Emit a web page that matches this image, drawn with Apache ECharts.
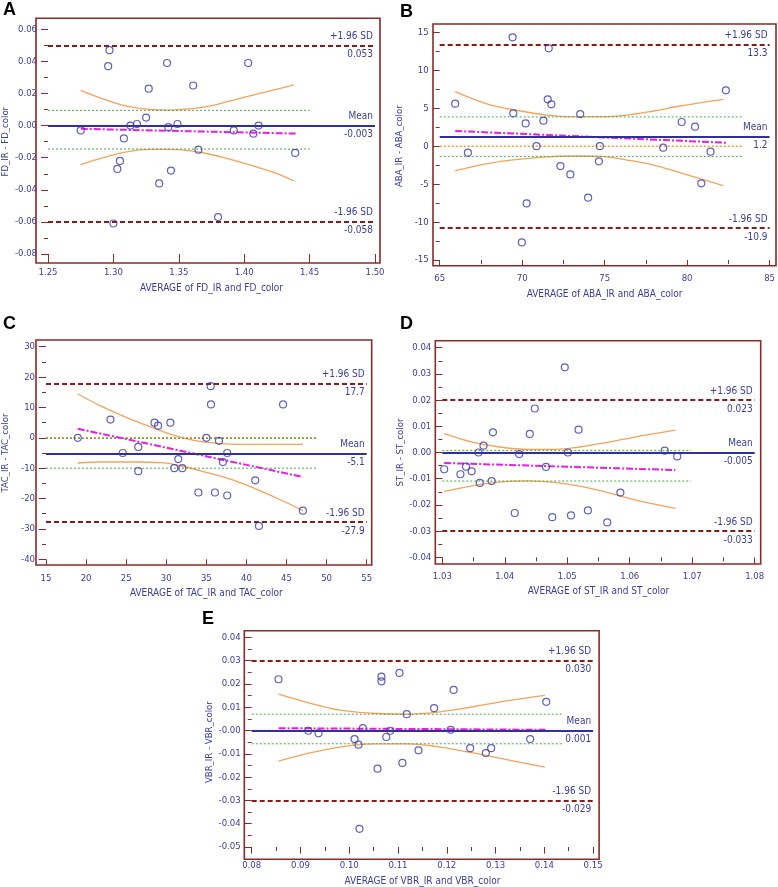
<!DOCTYPE html>
<html>
<head>
<meta charset="utf-8">
<script src="https://cdn.jsdelivr.net/npm/echarts/dist/echarts.min.js"></script>
<style>
  html, body { margin: 0; background: #fff; }
  #main { width: 778px; height: 887px; }
</style>
</head>
<body>
<div id="main"></div>
<script>
// ---- A: FD ----
const fdAvg = [1.275, 1.296, 1.297, 1.300, 1.303, 1.305, 1.308, 1.313, 1.318, 1.325, 1.327, 1.335, 1.341, 1.342, 1.344, 1.349, 1.361, 1.365, 1.380, 1.392, 1.403, 1.407, 1.411, 1.439]
const fdDiff = [-0.003, 0.037, 0.047, -0.061, -0.027, -0.022, -0.008, 0.000, 0.001, 0.005, 0.023, -0.036, 0.039, -0.001, -0.028, 0.001, 0.025, -0.015, -0.057, -0.003, 0.039, -0.005, 0.000, -0.017]
const fdLimits = [0.053, -0.0025, -0.058]
const fdLimitText = ['0.053', '-0.003', '-0.058']
const fdMeanCi = [0.0095, -0.0146]
const fdGuideEnd = 1.45
const fdReg = [[1.275, -0.002], [1.44, -0.005]]
const fdCiUp = [[1.275, 0.022], [1.293, 0.0164], [1.310, 0.0122], [1.328, 0.0101], [1.343, 0.0097], [1.358, 0.0104], [1.373, 0.0122], [1.388, 0.0151], [1.406, 0.0189], [1.423, 0.0222], [1.438, 0.0253]]
const fdCiLo = [[1.275, -0.0243], [1.293, -0.0198], [1.310, -0.0164], [1.328, -0.0148], [1.343, -0.0148], [1.358, -0.0156], [1.373, -0.0177], [1.388, -0.0208], [1.406, -0.025], [1.423, -0.0293], [1.438, -0.0345]]

// ---- B: ABA ----
const abaAvg = [65.94, 66.71, 69.42, 69.46, 69.98, 70.21, 70.27, 70.87, 71.29, 71.55, 71.61, 71.77, 72.32, 72.92, 73.52, 74.0, 74.65, 74.71, 78.55, 79.67, 80.48, 80.86, 81.42, 82.35]
const abaDiff = [5.6, -0.86, 14.34, 4.32, -12.68, 3.0, -7.54, 0, 3.36, 6.17, 12.89, 5.51, -2.62, -3.72, 4.23, -6.79, -2.0, 0, -0.2, 3.18, 2.57, -4.9, -0.73, 7.35]
const abaLimits = [13.4, 1.3, -10.8]
const abaLimitText = ['13.3', '1.2', '-10.9']
const abaMeanCi = [3.85, -1.35]
const abaGuideEnd = 83.35
const abaReg = [[65.94, 2.0], [82.35, 0.45]]
const abaCiUp = [[65.94, 7.18], [67.9, 5.55], [69.9, 4.63], [71.5, 4.1], [73.1, 3.88], [74.75, 3.88], [76.36, 4.1], [77.97, 4.63], [79.57, 5.29], [82.2, 6.17]]
const abaCiLo = [[65.94, -3.24], [67.9, -2.3], [69.9, -1.7], [71.5, -1.4], [73.1, -1.3], [74.75, -1.35], [76.36, -1.83], [77.97, -2.49], [79.57, -3.5], [82.2, -5.21]]

// ---- C: TAC ----
const tacAvg = [18.96, 23.04, 24.57, 26.51, 26.51, 28.53, 28.98, 30.51, 31.0, 31.5, 32.0, 34.01, 35.0, 35.54, 35.58, 36.07, 36.57, 37.06, 37.6, 37.6, 41.1, 41.56, 44.57, 47.04]
const tacDiff = [0, 6, -5, -3, -11, 5, 4, 5, -10, -7, -10, -18, 0, 17, 11, -18, -1, -8, -5, -19, -14, -29, 11, -24]
const tacLimits = [17.8, -5.1, -27.8]
const tacLimitText = ['17.7', '-5.1', '-27.9']
const tacMeanCi = [-0.2, -10.0]
const tacGuideEnd = 48.8
const tacReg = [[18.96, 3.0], [47.04, -12.9]]
const tacCiUp = [[18.96, 14.42], [22.0, 10.25], [25.3, 6.41], [28.2, 3.45], [31.1, 0.7], [33.6, -0.94], [36.4, -1.82], [39.3, -2.15], [42.6, -2.15], [47.04, -2.15]]
const tacCiLo = [[18.96, -8.29], [22.0, -7.96], [26.1, -7.96], [29.4, -8.18], [31.9, -9.28], [34.4, -10.93], [37.7, -13.34], [41.0, -16.63], [44.3, -20.47], [47.04, -23.98]]

// ---- D: ST ----
const stAvg = [1.0303, 1.0329, 1.0338, 1.0347, 1.0358, 1.0360, 1.0366, 1.0379, 1.0381, 1.0416, 1.0423, 1.0440, 1.0448, 1.0466, 1.0476, 1.0496, 1.0501, 1.0506, 1.0518, 1.0533, 1.0564, 1.0585, 1.0656, 1.0676]
const stDiff = [-0.0064, -0.0083, -0.0054, -0.0072, 0.0, -0.0116, 0.0026, -0.0109, 0.0077, -0.0231, -0.0006, 0.0071, 0.0168, -0.0055, -0.0247, 0.0325, 0.0, -0.024, 0.0087, -0.0221, -0.0267, -0.0153, 0.0007, -0.0015]
const stLimits = [0.0228, -0.0046, -0.0324]
const stLimitText = ['0.023', '-0.005', '-0.033']
const stMeanCi = [0.0008, -0.0109]
const stGuideEnd = 1.0698
const stReg = [[1.0303, -0.004], [1.0673, -0.0067]]
const stCiUp = [[1.0303, 0.0072], [1.0346, 0.0041], [1.0389, 0.0022], [1.0437, 0.0012], [1.048, 0.0012], [1.0522, 0.0022], [1.0565, 0.0039], [1.0608, 0.0059], [1.0673, 0.0085]]
const stCiLo = [[1.0303, -0.0148], [1.0346, -0.0128], [1.0389, -0.0113], [1.0437, -0.0108], [1.048, -0.0114], [1.0522, -0.0129], [1.0565, -0.0153], [1.0608, -0.0181], [1.0673, -0.0213]]

// ---- E: VBR ----
const vbrAvg = [0.0855, 0.0916, 0.0937, 0.1011, 0.1019, 0.1021, 0.1028, 0.1058, 0.1066, 0.1066, 0.1076, 0.1084, 0.1103, 0.1109, 0.1118, 0.1142, 0.1174, 0.1208, 0.1214, 0.1248, 0.1280, 0.1291, 0.1371, 0.1404]
const vbrDiff = [0.022, -0.0001, -0.0012, -0.0037, -0.0061, -0.0422, 0.001, -0.0164, 0.0231, 0.0211, -0.0028, -0.0001, 0.0247, -0.0139, 0.007, -0.0085, 0.0096, 0.0003, 0.0174, -0.0076, -0.0097, -0.0076, -0.0037, 0.0123]
const vbrLimits = [0.0304, 0.0009, -0.0285]
const vbrLimitText = ['0.030', '0.001', '-0.029']
const vbrMeanCi = [0.007, -0.0057]
const vbrGuideEnd = 0.1436
const vbrReg = [[0.0855, 0.001], [0.1404, 0.0003]]
const vbrCiUp = [[0.0855, 0.0156], [0.0913, 0.0121], [0.0981, 0.0087], [0.1049, 0.0074], [0.1118, 0.007], [0.1186, 0.008], [0.1254, 0.0102], [0.1323, 0.0127], [0.1401, 0.0151]]
const vbrCiLo = [[0.0855, -0.0131], [0.0913, -0.0099], [0.0981, -0.0071], [0.1049, -0.0057], [0.1118, -0.0057], [0.1186, -0.0071], [0.1254, -0.0096], [0.1323, -0.0125], [0.1401, -0.0157]]

const FONT = "'DejaVu Sans Condensed', 'Liberation Sans Narrow', 'Liberation Sans', Arial, sans-serif"
const TEXT = '#3d3d99'
const FRAME = '#8b2a2a'
const FS = 9.5

const panels = [
  { tag: 'A', box: [43, 29.3, 332, 224.7], pad: [7, 11, 5, 9], x: [1.25, 1.5, 0.05], y: [-0.08, 0.06, 0.02], dx: 2, dy: 2,
    xName: 'AVERAGE of FD_IR and FD_color', yName: 'FD_IR - FD_color', tagPos: [3, 1],
    avg: fdAvg, diff: fdDiff, limits: fdLimits, limitText: fdLimitText, meanCi: fdMeanCi, guideEnd: fdGuideEnd, reg: fdReg, ciUp: fdCiUp, ciLo: fdCiLo },
  { tag: 'B', box: [439.7, 32.3, 331.6, 227.7], pad: [6.7, 8.3, 4.7, 5.7], x: [65, 85, 5], y: [-15, 15, 5], dx: 0, dy: 0, xMinor: true,
    xName: 'AVERAGE of ABA_IR and ABA_color', yName: 'ABA_IR - ABA_color', tagPos: [400, 3],
    avg: abaAvg, diff: abaDiff, limits: abaLimits, limitText: abaLimitText, meanCi: abaMeanCi, guideEnd: abaGuideEnd, reg: abaReg, ciUp: abaCiUp, ciLo: abaCiLo },
  { tag: 'C', box: [43.3, 346.7, 323.4, 212.6], pad: [7.3, 6.7, 5, 5.7], x: [15, 55, 5], y: [-40, 30, 10], dx: 0, dy: 0,
    xName: 'AVERAGE of TAC_IR and TAC_color', yName: 'TAC_IR - TAC_color', tagPos: [3, 315],
    avg: tacAvg, diff: tacDiff, limits: tacLimits, limitText: tacLimitText, meanCi: tacMeanCi, guideEnd: tacGuideEnd, reg: tacReg, ciUp: tacCiUp, ciLo: tacCiLo },
  { tag: 'D', box: [442.3, 347.7, 312.4, 209.6], pad: [7, 7, 6, 6.7], x: [1.03, 1.08, 0.01], y: [-0.04, 0.04, 0.01], dx: 2, dy: 2, xMinor: true,
    xName: 'AVERAGE of ST_IR and ST_color', yName: 'ST_IR - ST_color', tagPos: [400, 315],
    avg: stAvg, diff: stDiff, limits: stLimits, limitText: stLimitText, meanCi: stMeanCi, guideEnd: stGuideEnd, reg: stReg, ciUp: stCiUp, ciLo: stCiLo },
  { tag: 'E', box: [251.7, 637.3, 341.4, 215.4], pad: [7.4, 6.6, 6, 6.6], x: [0.08, 0.15, 0.01], y: [-0.05, 0.04, 0.01], dx: 2, dy: 2, xMinor: true, zeroText: '-0.00',
    xName: 'AVERAGE of VBR_IR and VBR_color', yName: 'VBR_IR - VBR_color', tagPos: [202, 610],
    avg: vbrAvg, diff: vbrDiff, limits: vbrLimits, limitText: vbrLimitText, meanCi: vbrMeanCi, guideEnd: vbrGuideEnd, reg: vbrReg, ciUp: vbrCiUp, ciLo: vbrCiLo }
]

const grids = [], xAxes = [], yAxes = [], series = [], graphics = []

function fmt(v, d, zeroText) {
  if (Math.abs(v) < 1e-9) return zeroText || (0).toFixed(d)
  return v.toFixed(d)
}

function lineLabel(text, pos) {
  return { show: true, formatter: text, position: pos, color: TEXT, fontFamily: FONT, fontSize: FS + 0.5, distance: [2, 4] }
}

const hidden = { color: 'rgba(0,0,0,0)', width: 0 }

panels.forEach((p, i) => {
  const [left, top, width, height] = p.box
  const [pl, pt, pr, pb] = p.pad
  grids.push({ left, top, width, height })
  xAxes.push({
    gridIndex: i, type: 'value', min: p.x[0], max: p.x[1], interval: p.x[2],
    name: p.xName, nameLocation: 'middle', nameGap: 29,
    nameTextStyle: { color: TEXT, fontFamily: FONT, fontSize: FS + 0.5 },
    axisLine: { show: false, onZero: false },
    axisTick: { show: true, length: pb, lineStyle: { color: FRAME } },
    minorTick: { show: !!p.xMinor, splitNumber: 2, length: 4, lineStyle: { color: FRAME } },
    splitLine: { show: false },
    axisLabel: { margin: 14, color: TEXT, fontFamily: FONT, fontSize: FS, formatter: v => fmt(v, p.dx) }
  })
  yAxes.push({
    gridIndex: i, type: 'value', min: p.y[0], max: p.y[1], interval: p.y[2],
    name: p.yName, nameLocation: 'middle', nameGap: 35, nameRotate: 90,
    nameTextStyle: { color: TEXT, fontFamily: FONT, fontSize: FS },
    axisLine: { show: false, onZero: false },
    axisTick: { show: true, length: pl, lineStyle: { color: FRAME } },
    minorTick: { show: true, splitNumber: 2, length: 4, lineStyle: { color: FRAME } },
    splitLine: { show: false },
    axisLabel: { margin: 11, color: TEXT, fontFamily: FONT, fontSize: FS, formatter: v => fmt(v, p.dy, p.zeroText) }
  })
  const ax = { xAxisIndex: i, yAxisIndex: i }
  const xmin = p.x[0]
  series.push(
    { ...ax, type: 'line', data: p.ciUp, smooth: 0.4, symbol: 'none', lineStyle: { color: '#f4a35a', width: 1.3 }, z: 2 },
    { ...ax, type: 'line', data: p.ciLo, smooth: 0.4, symbol: 'none', lineStyle: { color: '#f4a35a', width: 1.3 }, z: 2 },
    { ...ax, type: 'line', data: [[xmin, 0], [p.guideEnd, 0]], symbol: 'none', lineStyle: { color: '#f39c2a', width: 1.5, type: [2, 2] }, z: 2 },
    { ...ax, type: 'line', data: [[xmin, p.meanCi[0]], [p.guideEnd, p.meanCi[0]]], symbol: 'none', lineStyle: { color: '#4ca64c', width: 1, type: [2, 2] }, z: 2 },
    { ...ax, type: 'line', data: [[xmin, p.meanCi[1]], [p.guideEnd, p.meanCi[1]]], symbol: 'none', lineStyle: { color: '#4ca64c', width: 1, type: [2, 2] }, z: 2 },
    { ...ax, type: 'line', data: p.reg, symbol: 'none', lineStyle: { color: '#e21fe2', width: 2, type: [7, 2, 2, 2] }, z: 3 },
    {
      ...ax, type: 'scatter', data: p.avg.map((v, k) => [v, p.diff[k]]),
      symbol: 'circle', symbolSize: 7,
      itemStyle: { color: 'rgba(255,255,255,0)', borderColor: '#3a3aa8', borderWidth: 1.2 },
      z: 5,
      markLine: {
        silent: true, symbol: 'none', animation: false,
        data: [
          { yAxis: p.limits[0], lineStyle: { color: '#8b1a1a', width: 2, type: [5, 3] }, label: lineLabel('+1.96 SD', 'insideEndTop') },
          { yAxis: p.limits[1], lineStyle: { color: '#2f2f9e', width: 2, type: 'solid' }, label: lineLabel('Mean', 'insideEndTop') },
          { yAxis: p.limits[2], lineStyle: { color: '#8b1a1a', width: 2, type: [5, 3] }, label: lineLabel('-1.96 SD', 'insideEndTop') }
        ]
      }
    },
    {
      ...ax, type: 'line', data: [], z: 4,
      markLine: {
        silent: true, symbol: 'none', animation: false,
        lineStyle: hidden,
        data: p.limits.map((v, k) => ({ yAxis: v, label: lineLabel(p.limitText[k], 'insideEndBottom') }))
      }
    }
  )
  graphics.push(
    { type: 'rect', shape: { x: left - pl, y: top - pt, width: width + pl + pr, height: height + pt + pb },
      style: { fill: 'none', stroke: FRAME, lineWidth: 1.6 }, z: 10 },
    { type: 'text', left: p.tagPos[0], top: p.tagPos[1],
      style: { text: p.tag, font: "bold 18px 'Liberation Sans', Arial, sans-serif", fill: '#000' } }
  )
})

const myChart = echarts.init(document.getElementById('main'))
myChart.setOption({
  animation: false,
  grid: grids,
  xAxis: xAxes,
  yAxis: yAxes,
  series: series,
  graphic: graphics
})
</script>
</body>
</html>
